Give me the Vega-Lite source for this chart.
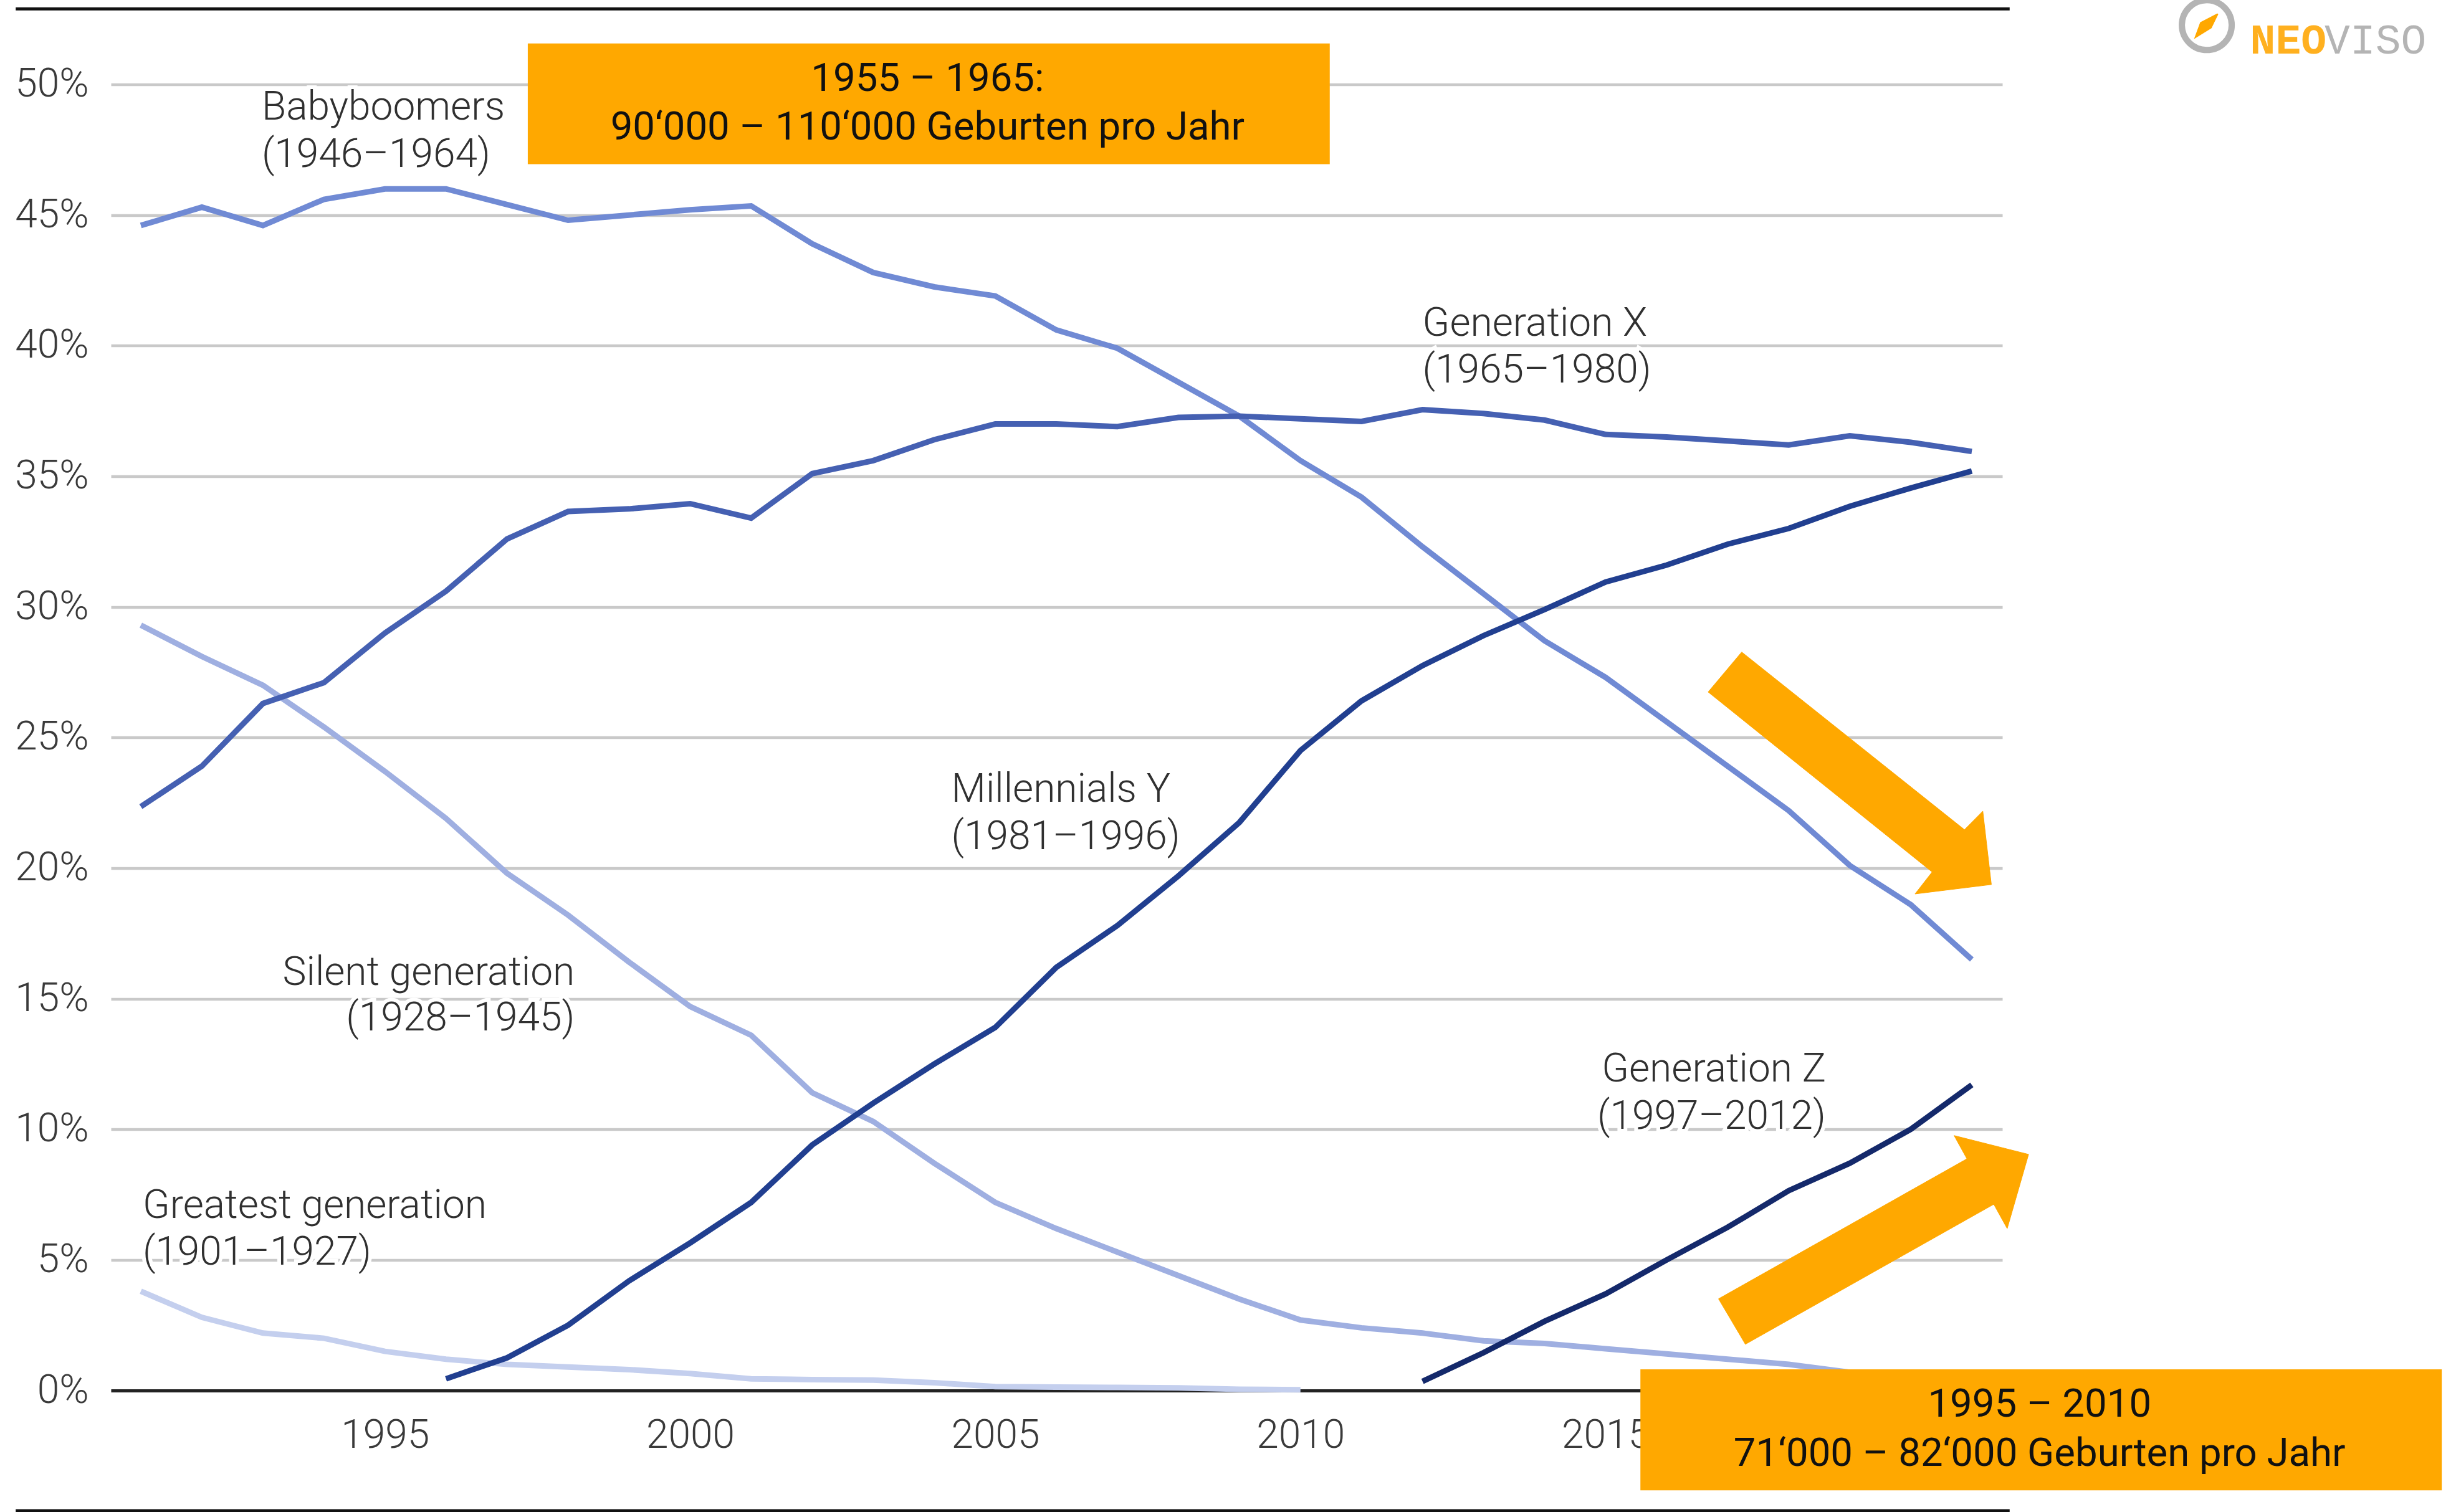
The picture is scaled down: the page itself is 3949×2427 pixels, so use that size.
{"$schema":"https://vega.github.io/schema/vega-lite/v6.json","width":3035,"height":2096.5,"autosize":"none","padding":{"left":178,"top":135.5,"right":736,"bottom":195},"background":"white","config":{"view":{"stroke":null},"text":{"font":"Roboto"}},
"datasets":{
"series":[
{"g":"Greatest","year":1991,"v":3.8},{"g":"Greatest","year":1992,"v":2.8},{"g":"Greatest","year":1993,"v":2.2},{"g":"Greatest","year":1994,"v":2.0},{"g":"Greatest","year":1995,"v":1.5},{"g":"Greatest","year":1996,"v":1.2},{"g":"Greatest","year":1997,"v":1.0},{"g":"Greatest","year":1998,"v":0.9},{"g":"Greatest","year":1999,"v":0.8},{"g":"Greatest","year":2000,"v":0.65},{"g":"Greatest","year":2001,"v":0.45},{"g":"Greatest","year":2002,"v":0.42},{"g":"Greatest","year":2003,"v":0.4},{"g":"Greatest","year":2004,"v":0.3},{"g":"Greatest","year":2005,"v":0.15},{"g":"Greatest","year":2006,"v":0.13},{"g":"Greatest","year":2007,"v":0.12},{"g":"Greatest","year":2008,"v":0.1},{"g":"Greatest","year":2009,"v":0.05},{"g":"Greatest","year":2010,"v":0.03},
{"g":"Silent","year":1991,"v":29.3},{"g":"Silent","year":1992,"v":28.1},{"g":"Silent","year":1993,"v":27.0},{"g":"Silent","year":1994,"v":25.4},{"g":"Silent","year":1995,"v":23.7},{"g":"Silent","year":1996,"v":21.9},{"g":"Silent","year":1997,"v":19.8},{"g":"Silent","year":1998,"v":18.2},{"g":"Silent","year":1999,"v":16.4},{"g":"Silent","year":2000,"v":14.7},{"g":"Silent","year":2001,"v":13.6},{"g":"Silent","year":2002,"v":11.4},{"g":"Silent","year":2003,"v":10.3},{"g":"Silent","year":2004,"v":8.7},{"g":"Silent","year":2005,"v":7.2},{"g":"Silent","year":2006,"v":6.2},{"g":"Silent","year":2007,"v":5.3},{"g":"Silent","year":2008,"v":4.4},{"g":"Silent","year":2009,"v":3.5},{"g":"Silent","year":2010,"v":2.7},{"g":"Silent","year":2011,"v":2.4},{"g":"Silent","year":2012,"v":2.2},{"g":"Silent","year":2013,"v":1.9},{"g":"Silent","year":2014,"v":1.8},{"g":"Silent","year":2015,"v":1.6},{"g":"Silent","year":2016,"v":1.4},{"g":"Silent","year":2017,"v":1.2},{"g":"Silent","year":2018,"v":1.0},{"g":"Silent","year":2019,"v":0.7},{"g":"Silent","year":2020,"v":0.6},{"g":"Silent","year":2021,"v":0.5},
{"g":"Boomers","year":1991,"v":44.6},{"g":"Boomers","year":1992,"v":45.3},{"g":"Boomers","year":1993,"v":44.6},{"g":"Boomers","year":1994,"v":45.6},{"g":"Boomers","year":1995,"v":46.0},{"g":"Boomers","year":1996,"v":46.0},{"g":"Boomers","year":1997,"v":45.4},{"g":"Boomers","year":1998,"v":44.8},{"g":"Boomers","year":1999,"v":45.0},{"g":"Boomers","year":2000,"v":45.2},{"g":"Boomers","year":2001,"v":45.35},{"g":"Boomers","year":2002,"v":43.9},{"g":"Boomers","year":2003,"v":42.8},{"g":"Boomers","year":2004,"v":42.25},{"g":"Boomers","year":2005,"v":41.9},{"g":"Boomers","year":2006,"v":40.6},{"g":"Boomers","year":2007,"v":39.9},{"g":"Boomers","year":2008,"v":38.6},{"g":"Boomers","year":2009,"v":37.3},{"g":"Boomers","year":2010,"v":35.6},{"g":"Boomers","year":2011,"v":34.2},{"g":"Boomers","year":2012,"v":32.3},{"g":"Boomers","year":2013,"v":30.5},{"g":"Boomers","year":2014,"v":28.7},{"g":"Boomers","year":2015,"v":27.3},{"g":"Boomers","year":2016,"v":25.6},{"g":"Boomers","year":2017,"v":23.9},{"g":"Boomers","year":2018,"v":22.2},{"g":"Boomers","year":2019,"v":20.1},{"g":"Boomers","year":2020,"v":18.6},{"g":"Boomers","year":2021,"v":16.5},
{"g":"X","year":1991,"v":22.35},{"g":"X","year":1992,"v":23.9},{"g":"X","year":1993,"v":26.3},{"g":"X","year":1994,"v":27.1},{"g":"X","year":1995,"v":29.0},{"g":"X","year":1996,"v":30.6},{"g":"X","year":1997,"v":32.6},{"g":"X","year":1998,"v":33.65},{"g":"X","year":1999,"v":33.75},{"g":"X","year":2000,"v":33.95},{"g":"X","year":2001,"v":33.4},{"g":"X","year":2002,"v":35.1},{"g":"X","year":2003,"v":35.6},{"g":"X","year":2004,"v":36.4},{"g":"X","year":2005,"v":37.0},{"g":"X","year":2006,"v":37.0},{"g":"X","year":2007,"v":36.9},{"g":"X","year":2008,"v":37.25},{"g":"X","year":2009,"v":37.3},{"g":"X","year":2010,"v":37.2},{"g":"X","year":2011,"v":37.1},{"g":"X","year":2012,"v":37.55},{"g":"X","year":2013,"v":37.4},{"g":"X","year":2014,"v":37.15},{"g":"X","year":2015,"v":36.6},{"g":"X","year":2016,"v":36.5},{"g":"X","year":2017,"v":36.35},{"g":"X","year":2018,"v":36.2},{"g":"X","year":2019,"v":36.55},{"g":"X","year":2020,"v":36.3},{"g":"X","year":2021,"v":35.95},
{"g":"Y","year":1996,"v":0.45},{"g":"Y","year":1997,"v":1.25},{"g":"Y","year":1998,"v":2.5},{"g":"Y","year":1999,"v":4.2},{"g":"Y","year":2000,"v":5.65},{"g":"Y","year":2001,"v":7.2},{"g":"Y","year":2002,"v":9.4},{"g":"Y","year":2003,"v":11.0},{"g":"Y","year":2004,"v":12.5},{"g":"Y","year":2005,"v":13.9},{"g":"Y","year":2006,"v":16.2},{"g":"Y","year":2007,"v":17.8},{"g":"Y","year":2008,"v":19.7},{"g":"Y","year":2009,"v":21.75},{"g":"Y","year":2010,"v":24.5},{"g":"Y","year":2011,"v":26.4},{"g":"Y","year":2012,"v":27.75},{"g":"Y","year":2013,"v":28.9},{"g":"Y","year":2014,"v":29.9},{"g":"Y","year":2015,"v":30.95},{"g":"Y","year":2016,"v":31.6},{"g":"Y","year":2017,"v":32.4},{"g":"Y","year":2018,"v":33.0},{"g":"Y","year":2019,"v":33.85},{"g":"Y","year":2020,"v":34.55},{"g":"Y","year":2021,"v":35.2},
{"g":"Z","year":2012,"v":0.35},{"g":"Z","year":2013,"v":1.45},{"g":"Z","year":2014,"v":2.65},{"g":"Z","year":2015,"v":3.7},{"g":"Z","year":2016,"v":5.0},{"g":"Z","year":2017,"v":6.25},{"g":"Z","year":2018,"v":7.65},{"g":"Z","year":2019,"v":8.7},{"g":"Z","year":2020,"v":10.0},{"g":"Z","year":2021,"v":11.7}
],
"labels":[
{"t":"Babyboomers","x":1992.98,"y":49.1,"a":"left"},{"t":"(1946–1964)","x":1992.98,"y":47.3,"a":"left"},
{"t":"Generation X","x":2012.0,"y":40.82,"a":"left"},{"t":"(1965–1980)","x":2012.0,"y":39.03,"a":"left"},
{"t":"Millennials  Y","x":2004.28,"y":22.98,"a":"left"},{"t":"(1981–1996)","x":2004.28,"y":21.19,"a":"left"},
{"t":"Silent generation","x":1998.11,"y":15.97,"a":"right"},{"t":"(1928–1945)","x":1998.11,"y":14.23,"a":"right"},
{"t":"Generation Z","x":2018.61,"y":12.29,"a":"right"},{"t":"(1997–2012)","x":2018.61,"y":10.48,"a":"right"},
{"t":"Greatest generation","x":1991.03,"y":7.07,"a":"left"},{"t":"(1901–1927)","x":1991.03,"y":5.26,"a":"left"}
],
"boxes":[{"x":1997.34,"x2":2010.48,"y":51.57,"y2":46.95},{"x":2015.57,"x2":2028.70,"y":0.81,"y2":-3.82}],
"boxText":[
{"t":"1955 – 1965:","x":2003.89,"y":50.2},{"t":"90‘000 – 110‘000 Geburten pro Jahr","x":2003.89,"y":48.34},
{"t":"1995 – 2010","x":2022.11,"y":-0.56},{"t":"71‘000 – 82‘000 Geburten pro Jahr","x":2022.11,"y":-2.43}
],
"rules":[{"x":1988.95,"x2":2021.62,"y":52.89},{"x":1988.95,"x2":2021.62,"y":-4.6}],
"arrows":[
{"k":"down","o":1,"x":2017.23,"y":28.27},{"k":"down","o":2,"x":2020.88,"y":21.47},{"k":"down","o":3,"x":2021.18,"y":22.18},{"k":"down","o":4,"x":2021.32,"y":19.37},{"k":"down","o":5,"x":2020.07,"y":19.01},{"k":"down","o":6,"x":2020.35,"y":19.85},{"k":"down","o":7,"x":2016.68,"y":26.74},{"k":"down","o":8,"x":2017.23,"y":28.27},
{"k":"up","o":1,"x":2016.85,"y":3.51},{"k":"up","o":2,"x":2020.92,"y":8.87},{"k":"up","o":3,"x":2020.71,"y":9.76},{"k":"up","o":4,"x":2021.93,"y":9.04},{"k":"up","o":5,"x":2021.58,"y":6.20},{"k":"up","o":6,"x":2021.36,"y":7.13},{"k":"up","o":7,"x":2017.29,"y":1.77},{"k":"up","o":8,"x":2016.85,"y":3.51},
{"k":"needle","o":1,"x":2025.03,"y":52.70},{"k":"needle","o":2,"x":2024.75,"y":52.36},{"k":"needle","o":3,"x":2024.66,"y":51.79},{"k":"needle","o":4,"x":2024.92,"y":52.17},{"k":"needle","o":5,"x":2025.03,"y":52.70}
]
},
"layer":[
{"data":{"name":"labels"},"transform":[{"filter":"datum.a=='left'"}],"mark":{"type":"text","align":"left","font":"Roboto","fontWeight":300,"fontSize":64,"baseline":"middle","stroke":"white","strokeWidth":12,"fill":"white"},
 "encoding":{
  "x":{"field":"x","type":"quantitative","scale":{"domain":[1990.51,2021.5],"nice":false,"zero":false},"axis":{"title":null,"values":[1995,2000,2005,2010,2015,2020],"format":"d","grid":false,"ticks":false,"domain":true,"domainColor":"#222222","domainWidth":5,"labelFont":"Roboto","labelFontWeight":300,"labelFontSize":64,"labelColor":"#3a3a3a","labelPadding":40,"labelBaseline":"top","zindex":0}},
  "y":{"field":"y","type":"quantitative","scale":{"domain":[0,50],"nice":false,"zero":false},"axis":{"title":null,"values":[0,5,10,15,20,25,30,35,40,45,50],"labelExpr":"datum.value+'%'","grid":true,"gridColor":"#c9c9c9","gridWidth":4.5,"ticks":false,"domain":false,"labelFont":"Roboto","labelFontWeight":300,"labelFontSize":64,"labelColor":"#3a3a3a","labelPadding":36}},
  "text":{"field":"t"}}},
{"data":{"name":"labels"},"transform":[{"filter":"datum.a=='right'"}],"mark":{"type":"text","align":"right","font":"Roboto","fontWeight":300,"fontSize":64,"baseline":"middle","stroke":"white","strokeWidth":12,"fill":"white"},
 "encoding":{"x":{"field":"x","type":"quantitative"},"y":{"field":"y","type":"quantitative"},"text":{"field":"t"}}},
{"data":{"name":"series"},"mark":{"type":"line","strokeWidth":9},
 "encoding":{"x":{"field":"year","type":"quantitative"},"y":{"field":"v","type":"quantitative"},"color":{"field":"g","type":"nominal","legend":null,"scale":{"domain":["Greatest","Silent","Boomers","X","Y","Z"],"range":["#c4cfee","#9fafe1","#708ad4","#4560b2","#213f90","#14296b"]}},"order":{"field":"year"}}},
{"data":{"name":"labels"},"transform":[{"filter":"datum.a=='left'"}],"mark":{"type":"text","align":"left","font":"Roboto","fontWeight":300,"fontSize":64,"baseline":"middle","fill":"#303030"},
 "encoding":{"x":{"field":"x","type":"quantitative"},"y":{"field":"y","type":"quantitative"},"text":{"field":"t"}}},
{"data":{"name":"labels"},"transform":[{"filter":"datum.a=='right'"}],"mark":{"type":"text","align":"right","font":"Roboto","fontWeight":300,"fontSize":64,"baseline":"middle","fill":"#303030"},
 "encoding":{"x":{"field":"x","type":"quantitative"},"y":{"field":"y","type":"quantitative"},"text":{"field":"t"}}},
{"data":{"name":"arrows"},"transform":[{"filter":"datum.k!='needle'"}],"mark":{"type":"line","fill":"#ffa800","stroke":"#ffa800","strokeWidth":1},
 "encoding":{"x":{"field":"x","type":"quantitative"},"y":{"field":"y","type":"quantitative"},"detail":{"field":"k"},"order":{"field":"o"}}},
{"data":{"name":"boxes"},"mark":{"type":"rect","color":"#ffa800"},
 "encoding":{"x":{"field":"x","type":"quantitative"},"x2":{"field":"x2"},"y":{"field":"y","type":"quantitative"},"y2":{"field":"y2"}}},
{"data":{"name":"boxText"},"mark":{"type":"text","font":"Roboto","fontSize":63.5,"baseline":"middle","align":"center","fill":"#111111"},
 "encoding":{"x":{"field":"x","type":"quantitative"},"y":{"field":"y","type":"quantitative"},"text":{"field":"t"}}},
{"data":{"name":"rules"},"mark":{"type":"rule","color":"#111111","strokeWidth":5},
 "encoding":{"x":{"field":"x","type":"quantitative"},"x2":{"field":"x2"},"y":{"field":"y","type":"quantitative"}}},
{"data":{"values":[{"x":2024.85,"y":52.27}]},"mark":{"type":"point","shape":"circle","size":6400,"filled":false,"stroke":"#b4b4b4","strokeWidth":10,"opacity":1},
 "encoding":{"x":{"field":"x","type":"quantitative"},"y":{"field":"y","type":"quantitative"}}},
{"data":{"name":"arrows"},"transform":[{"filter":"datum.k=='needle'"}],"mark":{"type":"line","fill":"#ffa800","stroke":"#ffa800","strokeWidth":2},
 "encoding":{"x":{"field":"x","type":"quantitative"},"y":{"field":"y","type":"quantitative"},"detail":{"field":"k"},"order":{"field":"o"}}},
{"data":{"values":[{"t":"NEO","x":2025.56,"y":51.17}]},"mark":{"type":"text","font":"Liberation Mono","fontSize":68,"align":"left","baseline":"alphabetic","fill":"#ffb01f","fontWeight":"bold"},
 "encoding":{"x":{"field":"x","type":"quantitative"},"y":{"field":"y","type":"quantitative"},"text":{"field":"t"}}},
{"data":{"values":[{"t":"VISO","x":2026.78,"y":51.17}]},"mark":{"type":"text","font":"Liberation Mono","fontSize":68,"align":"left","baseline":"alphabetic","fill":"#b4b4b4"},
 "encoding":{"x":{"field":"x","type":"quantitative"},"y":{"field":"y","type":"quantitative"},"text":{"field":"t"}}}
]}
